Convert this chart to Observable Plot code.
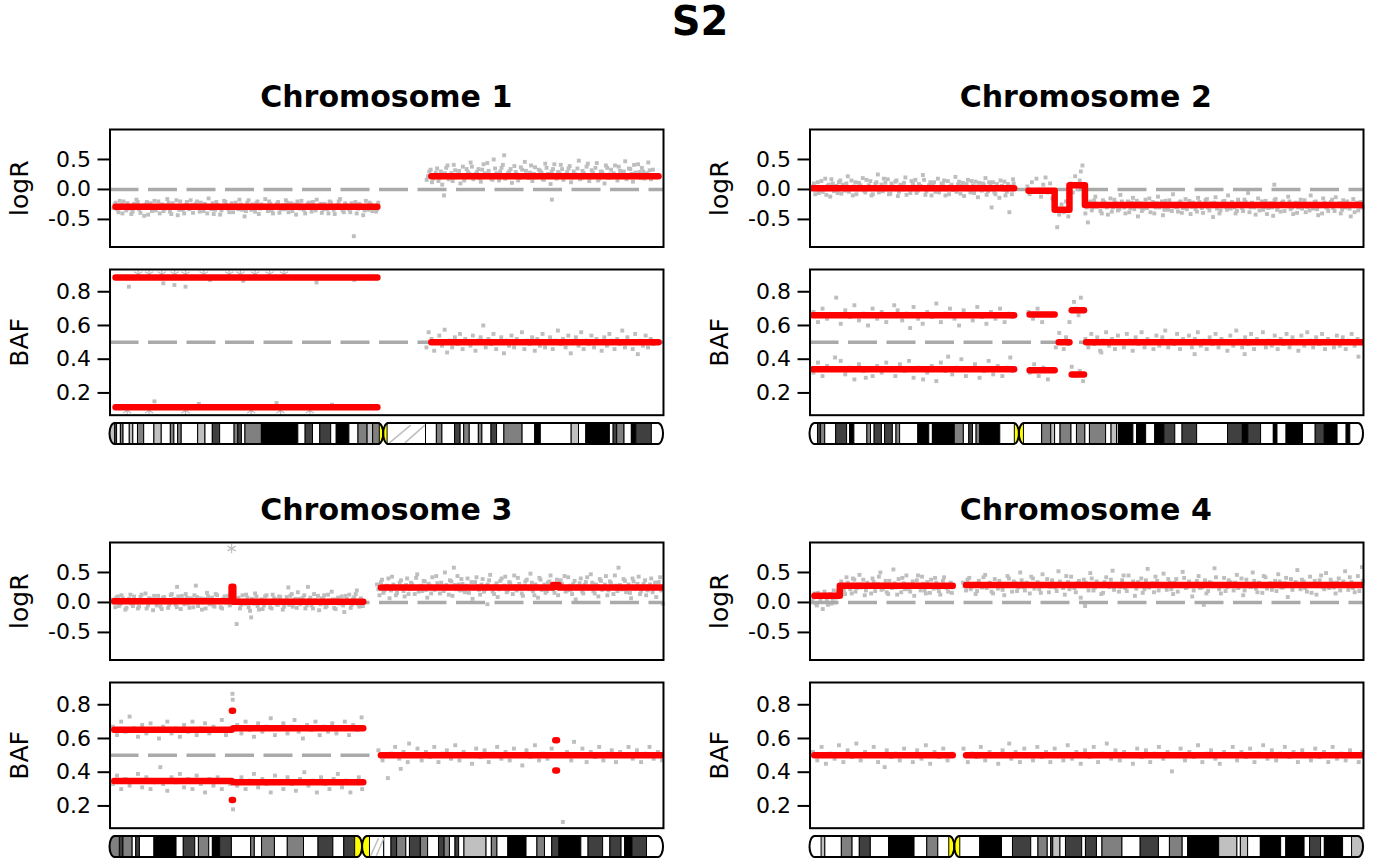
<!DOCTYPE html>
<html>
<head>
<meta charset="utf-8">
<script src="https://cdn.jsdelivr.net/npm/d3@7"></script>
<script src="https://cdn.jsdelivr.net/npm/@observablehq/plot@0.6"></script>
<style>
  body { margin: 0; background: #fff; }
  #chart { position: relative; width: 1400px; height: 866px; font-family: "DejaVu Sans", sans-serif; }
  #chart svg { position: absolute; overflow: visible; }
  .title { position: absolute; text-align: center; font-weight: bold; line-height: 1; white-space: nowrap; }
</style>
</head>
<body>
<div id="chart"></div>
<script>
// ---- chromosome lengths (Mb) ----
const chrLength = [249.25, 243.2, 198.0, 191.15];
const chrNames = ["Chromosome 1", "Chromosome 2", "Chromosome 3", "Chromosome 4"];

// ---- segment calls: [start, end, logR, group] (connected within a group) ----
const chr1LogRSeg = [[2.5, 120.4, -0.29, 1], [144.7, 247, 0.22, 2]];
const chr2LogRSeg = [[1.2, 89.7, 0.02, 1], [96, 107.5, -0.02, 2], [107.5, 114, -0.34, 2], [114, 120.8, 0.07, 2], [120.8, 242.6, -0.26, 2]];
const chr3LogRSeg = [[1.5, 43.5, 0.02, 1], [43.5, 44.1, 0.26, 1], [44.1, 90.6, 0.01, 1], [96.9, 158.5, 0.25, 2], [158.5, 160.5, 0.29, 2], [160.5, 197.5, 0.25, 2]];
const chr4LogRSeg = [[1.5, 10.3, 0.11, 1], [10.3, 49.3, 0.28, 1], [53.9, 190.5, 0.29, 2]];

// ---- BAF segments: [start, end, upper BAF] (mirrored at 1 - upper) ----
const chr1BafSeg = [[2.5, 120.4, 0.885], [144.7, 247, 0.5]];
const chr2BafSeg = [[1.2, 89.7, 0.66], [96.5, 107.5, 0.665], [109.3, 114, 0.5], [115, 120.4, 0.69], [121.3, 242.6, 0.5]];
const chr3BafSeg = [[1.5, 43.5, 0.652], [43.6, 44, 0.765], [44.1, 90.6, 0.66], [96.9, 197.5, 0.5], [159.3, 159.9, 0.59]];
const chr4BafSeg = [[1.5, 49.3, 0.5], [53.9, 190.5, 0.5]];

// ---- probe values: [position Mb, value] ----
const chr1LogR = [
[1.5,-0.31],[2.6,-0.22],[3.8,-0.38],[5.0,-0.26],[6.1,-0.2],[7.3,-0.35],[8.4,-0.29],[9.6,-0.41],[10.8,-0.24],[11.9,-0.17],[13.1,-0.33],[14.2,-0.27],[15.4,-0.44],[16.6,-0.21],[17.7,-0.3],[18.9,-0.36],[20.0,-0.19],[21.2,-0.28],[22.4,-0.4],[23.5,-0.25],[24.7,-0.32],[25.8,-0.16],[27.0,-0.37],[28.2,-0.23],[29.3,-0.29],[30.5,-0.43],[31.6,-0.2],[32.8,-0.34],[34.0,-0.26],[35.1,-0.31],[36.3,-0.18],[37.4,-0.39],[38.6,-0.24],[39.8,-0.3],[40.9,-0.22],[42.1,-0.36],[43.2,-0.27],[44.4,-0.15],[45.6,-0.33],[46.7,-0.41],[47.9,-0.21],[49.0,-0.29],[50.2,-0.35],[51.4,-0.19],[52.5,-0.26],[53.7,-0.38],[54.8,-0.23],[56.0,-0.31],[57.2,-0.27],[58.3,-0.17],[59.5,-0.34],[60.6,-0.45],[61.8,-0.22],[63.0,-0.3],[64.1,-0.25],[65.3,-0.37],[66.4,-0.2],[67.6,-0.32],[68.8,-0.28],[69.9,-0.16],[71.1,-0.36],[72.2,-0.24],[73.4,-0.4],[74.6,-0.29],[75.7,-0.21],[76.9,-0.33],[78.0,-0.26],[79.2,-0.18],[80.4,-0.38],[81.5,-0.23],[82.7,-0.3],[83.8,-0.42],[85.0,-0.25],[86.2,-0.19],[87.3,-0.34],[88.5,-0.28],[89.6,-0.22],[90.8,-0.37],[92.0,-0.31],[93.1,-0.17],[94.3,-0.27],[95.4,-0.39],[96.6,-0.24],[97.8,-0.33],[98.9,-0.2],[100.1,-0.29],[101.2,-0.41],[102.4,-0.26],[103.6,-0.16],[104.7,-0.35],[105.9,-0.23],[107.0,-0.3],[108.2,-0.38],[109.8,-0.78],[110.5,-0.21],[111.7,-0.32],[112.8,-0.27],[114.0,-0.43],[115.2,-0.19],[116.3,-0.34],[117.5,-0.25],[118.6,-0.3],[119.8,-0.37],[120.8,-0.22],
[142.6,0.16],[143.8,0.3],[145.0,0.12],[146.1,0.24],[147.3,0.35],[148.4,0.19],[149.6,0.08],[150.4,-0.1],[150.8,0.27],[152.0,0.4],[153.1,0.21],[154.3,0.14],[155.4,0.32],[156.6,0.25],[157.8,0.1],[158.9,0.38],[160.1,0.2],[161.2,0.29],[162.4,0.45],[163.6,0.17],[164.7,0.26],[165.9,0.34],[167.0,0.13],[168.2,0.42],[169.4,0.23],[170.5,0.31],[171.7,0.18],[172.8,0.5],[174.0,0.27],[175.2,0.15],[176.3,0.36],[177.5,0.57],[178.6,0.22],[179.8,0.3],[181.0,0.11],[182.1,0.39],[183.3,0.25],[184.4,0.19],[185.6,0.33],[186.8,0.46],[187.9,0.21],[189.1,0.28],[190.2,0.14],[191.4,0.37],[192.6,0.24],[193.7,0.31],[194.9,0.17],[196.0,0.43],[197.2,0.26],[198.4,0.09],[199.0,-0.17],[199.5,0.34],[200.7,0.2],[201.8,0.29],[203.0,0.41],[204.2,0.16],[205.3,0.25],[206.5,0.35],[207.6,0.12],[208.8,0.3],[210.0,0.22],[211.1,0.48],[212.3,0.19],[213.4,0.27],[214.6,0.38],[215.8,0.14],[216.9,0.32],[218.1,0.23],[219.2,0.44],[220.4,0.18],[221.6,0.29],[222.7,0.1],[223.9,0.36],[225.0,0.25],[226.2,0.2],[227.4,0.4],[228.5,0.15],[229.7,0.31],[230.8,0.27],[232.0,0.47],[233.2,0.21],[234.3,0.34],[235.5,0.13],[236.6,0.28],[237.8,0.42],[239.0,0.19],[240.1,0.3],[241.3,0.24],[242.4,0.45],[243.6,0.17],[244.5,0.33]
];
const chr1LogRMore = [
[2.0,-0.25],[3.2,-0.33],[4.4,-0.19],[5.6,-0.4],[6.7,-0.28],[7.9,-0.23],[9.0,-0.32],[10.2,-0.37],[11.4,-0.26],[12.5,-0.21],[13.7,-0.39],[14.8,-0.3],[16.0,-0.25],[17.2,-0.42],[18.3,-0.23],[19.5,-0.31],[20.6,-0.35],[21.8,-0.2],[23.0,-0.29],[24.1,-0.36],[25.3,-0.27],[26.4,-0.22],[27.6,-0.41],[28.8,-0.3],[29.9,-0.18],[31.1,-0.34],[32.2,-0.28],[33.4,-0.4],[34.6,-0.21],[35.7,-0.33],[36.9,-0.26],[38.0,-0.31],[39.2,-0.2],[40.4,-0.37],[41.5,-0.28],[42.7,-0.24],[43.8,-0.4],[45.0,-0.3],[46.2,-0.23],[47.3,-0.34],[48.5,-0.26],[49.6,-0.42],[50.8,-0.27],[52.0,-0.21],[53.1,-0.32],[54.3,-0.29],[55.4,-0.38],[56.6,-0.22],[57.8,-0.33],[58.9,-0.25],[60.1,-0.3],[61.2,-0.36],[62.4,-0.18],[63.6,-0.34],[64.7,-0.28],[65.9,-0.23],[67.0,-0.41],[68.2,-0.25],[69.4,-0.31],[70.5,-0.27],[71.7,-0.2],[72.8,-0.35],[74.0,-0.3],[75.2,-0.24],[76.3,-0.39],[77.5,-0.28],[78.6,-0.33],[79.8,-0.22],[81.0,-0.3],[82.1,-0.36],[83.3,-0.25],[84.4,-0.2],[85.6,-0.32],[86.8,-0.27],[87.9,-0.4],[89.1,-0.24],[90.2,-0.3],[91.4,-0.21],[92.6,-0.35],[93.7,-0.29],[94.9,-0.24],[96.0,-0.33],[97.2,-0.28],[98.4,-0.4],[99.5,-0.22],[100.7,-0.34],[101.8,-0.27],[103.0,-0.2],[104.2,-0.31],[105.3,-0.38],[106.5,-0.26],[107.6,-0.33],[108.8,-0.23],[110.0,-0.3],[111.1,-0.4],[112.3,-0.24],[113.4,-0.29],[114.6,-0.35],[115.8,-0.27],[116.9,-0.22],[118.1,-0.36],[119.2,-0.28],[120.3,-0.33],
[143.2,0.22],[144.4,0.33],[145.6,0.18],[146.7,0.28],[147.9,0.14],[149.0,0.3],[150.2,0.24],[151.4,0.36],[152.5,0.17],[153.7,0.27],[154.8,0.41],[156.0,0.2],[157.2,0.31],[158.3,0.23],[159.5,0.15],[160.6,0.34],[161.8,0.26],[163.0,0.38],[164.1,0.21],[165.3,0.29],[166.4,0.19],[167.6,0.33],[168.8,0.27],[169.9,0.44],[171.1,0.24],[172.2,0.16],[173.4,0.35],[174.6,0.22],[175.7,0.3],[176.9,0.41],[178.0,0.18],[179.2,0.27],[180.4,0.34],[181.5,0.21],[182.7,0.29],[183.8,0.15],[185.0,0.37],[186.2,0.24],[187.3,0.31],[188.5,0.19],[189.6,0.4],[190.8,0.26],[192.0,0.2],[193.1,0.33],[194.3,0.28],[195.4,0.16],[196.6,0.36],[197.8,0.23],[198.9,0.3],[200.1,0.42],[201.2,0.18],[202.4,0.27],[203.6,0.34],[204.7,0.22],[205.9,0.29],[207.0,0.39],[208.2,0.2],[209.4,0.26],[210.5,0.35],[211.7,0.17],[212.8,0.31],[214.0,0.24],[215.2,0.43],[216.3,0.21],[217.5,0.28],[218.6,0.36],[219.8,0.15],[221.0,0.3],[222.1,0.25],[223.3,0.4],[224.4,0.19],[225.6,0.33],[226.8,0.27],[227.9,0.21],[229.1,0.38],[230.2,0.24],[231.4,0.3],[232.6,0.17],[233.7,0.35],[234.9,0.26],[236.0,0.41],[237.2,0.22],[238.4,0.29],[239.5,0.36],[240.7,0.18],[241.8,0.27],[243.0,0.32],[244.2,0.23]
];
const chr1Baf = [
[8.5,0.83],[24,0.85],[29,0.84],[34,0.83],[45,0.87],[60,0.865],[93,0.855],[110,0.87],[20,0.15],[40,0.135],[75,0.14],[100,0.13],
[142.5,0.47],[143.5,0.56],[144.8,0.52],[146,0.45],[147.2,0.5],[148.3,0.54],[149.5,0.48],[150.7,0.575],[151.8,0.44],[153,0.51],[154.1,0.47],[155.3,0.53],[156.5,0.49],[157.6,0.55],[158.8,0.46],[160,0.52],[161.1,0.5],[162.3,0.48],[163.4,0.54],[164.6,0.45],[165.8,0.51],[166.9,0.53],[168.1,0.6],[169.2,0.47],[170.4,0.52],[171.6,0.49],[172.7,0.55],[173.9,0.46],[175,0.5],[176.2,0.53],[177.4,0.435],[178.5,0.51],[179.7,0.48],[180.8,0.54],[182,0.47],[183.2,0.52],[184.3,0.5],[185.5,0.56],[186.6,0.46],[187.8,0.51],[189,0.49],[190.1,0.53],[191.3,0.45],[192.4,0.52],[193.6,0.48],[194.8,0.55],[195.9,0.47],[197.1,0.5],[198.2,0.53],[199.4,0.46],[200.6,0.51],[201.7,0.57],[202.9,0.49],[204,0.52],[205.2,0.47],[206.4,0.54],[207.5,0.435],[208.7,0.5],[209.8,0.53],[211,0.48],[212.2,0.56],[213.3,0.46],[214.5,0.51],[215.6,0.49],[216.8,0.54],[218,0.47],[219.1,0.52],[220.3,0.5],[221.4,0.45],[222.6,0.53],[223.8,0.48],[224.9,0.55],[226.1,0.51],[227.2,0.46],[228.4,0.52],[229.6,0.49],[230.7,0.57],[231.9,0.47],[233,0.53],[234.2,0.5],[235.4,0.46],[236.5,0.55],[237.7,0.43],[238.8,0.51],[240,0.48],[241.2,0.54],[242.3,0.47],[243.5,0.52],[244.6,0.49]
];
const chr1BafStars = [[12.7,0.905],[17.6,0.905],[23.3,0.905],[29.1,0.905],[34,0.905],[42.2,0.905],[53.7,0.905],[58.7,0.905],[65.3,0.905],[71.8,0.905],[78.4,0.905],[7.7,0.095],[17.6,0.095],[34,0.095],[63.6,0.095],[76.8,0.095],[90,0.095]];

const chr2LogR = [
[1.2,0.05],[2.3,-0.08],[3.4,0.12],[4.5,0.0],[5.6,-0.04],[6.7,0.18],[7.8,0.06],[8.9,-0.12],[10,0.1],[11.1,0.02],[12.2,-0.06],[13.3,0.15],[14.4,0.08],[15.5,-0.02],[16.6,0.22],[17.7,0.04],[18.8,-0.1],[19.9,0.12],[21,0.0],[22.1,0.07],[23.2,0.19],[24.3,-0.05],[25.4,0.03],[26.5,0.14],[27.6,-0.08],[28.7,0.09],[29.8,0.25],[30.9,0.01],[32,-0.03],[33.1,0.11],[34.2,0.17],[35.3,-0.07],[36.4,0.05],[37.5,0.13],[38.6,-0.11],[39.7,0.08],[40.8,0.0],[41.9,0.2],[43,0.04],[44.1,-0.06],[45.2,0.1],[46.3,0.16],[47.4,-0.02],[48.5,0.06],[49.6,0.24],[50.7,-0.09],[51.8,0.03],[52.9,0.12],[54,0.07],[55.1,-0.04],[56.2,0.18],[57.3,0.01],[58.4,0.09],[59.5,-0.1],[60.6,0.14],[61.7,0.05],[62.8,-0.01],[63.9,0.21],[65,0.08],[66.1,-0.07],[67.2,0.11],[68.3,0.03],[69.4,0.16],[70.5,-0.05],[71.6,0.07],[72.7,0.13],[73.8,-0.13],[74.9,0.02],[76,0.1],[77.1,0.19],[78.2,-0.03],[79.3,0.06],[79.8,-0.3],[80.4,0.12],[81.5,-0.08],[82.6,0.04],[83.7,0.15],[84.8,0.0],[85.9,-0.1],[87,0.09],[87.6,-0.38],[88.1,0.03],[89.2,0.17],
[95.5,0.05],[96.5,-0.08],[97.5,0.12],[98.5,-0.02],[99.5,0.18],[100.5,0.0],[101.5,-0.12],[102.5,0.08],[103.5,0.2],[104.5,-0.05],[105.5,0.1],[106.5,-0.15],[107.5,-0.3],[108.6,-0.63],[109.5,-0.42],[110.5,-0.25],[111.5,-0.38],[112.5,-0.2],[113.5,-0.45],[114.5,0.1],[115.5,-0.05],[116.5,0.22],[117.5,0.0],[118.5,0.15],[119,0.3],[119.7,0.4],[120.2,-0.1],
[121,-0.4],[122.1,-0.55],[123.2,-0.2],[124.3,-0.3],[125.4,-0.12],[126.5,-0.27],[127.6,-0.36],[128.7,-0.18],[129.8,-0.24],[130.9,-0.42],[132,-0.15],[133.1,-0.3],[134.2,-0.22],[135.3,-0.35],[136.4,-0.09],[137.5,-0.26],[138.6,-0.4],[139.7,-0.2],[140.8,-0.31],[141.9,-0.14],[143,-0.28],[144.1,-0.45],[145.2,-0.23],[146.3,-0.33],[147.4,-0.17],[148.5,-0.26],[149.6,-0.38],[150.7,-0.21],[151.8,-0.3],[152.9,-0.12],[154,-0.27],[155.1,-0.43],[156.2,-0.19],[157.3,-0.34],[158.4,-0.24],[159.5,-0.08],[160.6,-0.29],[161.7,-0.37],[162.8,-0.2],[163.9,-0.31],[165,-0.16],[166.1,-0.25],[167.2,-0.41],[168.3,-0.22],[169.4,-0.33],[170.5,-0.14],[171.6,-0.28],[172.7,-0.39],[173.8,-0.18],[174.9,-0.3],[176,-0.23],[177.1,-0.46],[178.2,-0.13],[179.3,-0.27],[180.4,-0.35],[181.5,-0.2],[182.6,-0.29],[183.7,-0.1],[184.8,-0.32],[185.9,-0.24],[187,-0.4],[188.1,-0.17],[189.2,-0.28],[190.3,-0.36],[191.4,-0.21],[192.5,-0.06],[193.6,-0.3],[194.7,-0.25],[195.8,-0.42],[196.9,-0.15],[198,-0.27],[199.1,-0.34],[200.2,-0.19],[201.3,-0.31],[202.4,-0.23],[203.5,-0.44],[204,0.08],[204.6,-0.16],[205.7,-0.29],[206.8,-0.37],[207.9,-0.2],[209,-0.26],[210.1,-0.12],[211.2,-0.33],[212.3,-0.41],[213.4,-0.22],[214.5,-0.3],[215.6,-0.17],[216.7,-0.27],[217.8,-0.38],[218.9,-0.24],[220,-0.1],[221.1,-0.32],[222.2,-0.2],[223.3,-0.43],[224.4,-0.26],[225.5,-0.15],[226.6,-0.29],[227.7,-0.36],[228.8,-0.21],[229.9,-0.31],[231,-0.13],[232.1,-0.27],[233.2,-0.4],[234.3,-0.18],[235.4,-0.3],[236.5,-0.24],[237.6,-0.45],[238.7,-0.16],[239.8,-0.28],[240.9,-0.35],[242,-0.21],[242.8,-0.3]
];
const chr2LogRMore = [
[1.7,0.1],[2.8,0.0],[3.9,-0.06],[5.0,0.14],[6.1,0.04],[7.2,-0.09],[8.3,0.08],[9.4,0.17],[10.5,-0.03],[11.6,0.06],[12.7,0.12],[13.8,-0.07],[14.9,0.03],[16.0,0.1],[17.1,-0.04],[18.2,0.15],[19.3,0.05],[20.4,-0.08],[21.5,0.11],[22.6,0.02],[23.7,-0.02],[24.8,0.16],[25.9,0.07],[27.0,-0.1],[28.1,0.04],[29.2,0.12],[30.3,-0.05],[31.4,0.08],[32.5,0.18],[33.6,0.0],[34.7,-0.08],[35.8,0.1],[36.9,0.03],[38.0,0.15],[39.1,-0.04],[40.2,0.06],[41.3,0.11],[42.4,-0.09],[43.5,0.02],[44.6,0.14],[45.7,0.05],[46.8,-0.06],[47.9,0.09],[49.0,0.01],[50.1,0.16],[51.2,-0.03],[52.3,0.07],[53.4,-0.1],[54.5,0.12],[55.6,0.04],[56.7,-0.05],[57.8,0.1],[58.9,0.15],[60.0,0.0],[61.1,-0.08],[62.2,0.08],[63.3,0.03],[64.4,-0.04],[65.5,0.13],[66.6,0.06],[67.7,-0.11],[68.8,0.09],[69.9,0.0],[71.0,0.14],[72.1,-0.06],[73.2,0.05],[74.3,0.11],[75.4,-0.02],[76.5,0.07],[77.6,-0.09],[78.7,0.12],[79.9,0.02],[81.0,-0.05],[82.1,0.09],[83.2,-0.14],[84.3,0.06],[85.4,0.13],[86.5,-0.04],[87.8,0.05],[88.7,-0.08],[89.5,0.1],
[121.6,-0.3],[122.7,-0.22],[123.8,-0.35],[124.9,-0.18],[126.0,-0.29],[127.1,-0.25],[128.2,-0.4],[129.3,-0.21],[130.4,-0.3],[131.5,-0.26],[132.6,-0.37],[133.7,-0.17],[134.8,-0.28],[135.9,-0.33],[137.0,-0.2],[138.1,-0.3],[139.2,-0.24],[140.3,-0.38],[141.4,-0.22],[142.5,-0.33],[143.6,-0.19],[144.7,-0.29],[145.8,-0.36],[146.9,-0.25],[148.0,-0.31],[149.1,-0.15],[150.2,-0.27],[151.3,-0.4],[152.4,-0.23],[153.5,-0.3],[154.6,-0.2],[155.7,-0.34],[156.8,-0.28],[157.9,-0.18],[159.0,-0.36],[160.1,-0.24],[161.2,-0.3],[162.3,-0.22],[163.4,-0.39],[164.5,-0.26],[165.6,-0.33],[166.7,-0.19],[167.8,-0.29],[168.9,-0.24],[170.0,-0.37],[171.1,-0.21],[172.2,-0.31],[173.3,-0.27],[174.4,-0.16],[175.5,-0.35],[176.6,-0.28],[177.7,-0.22],[178.8,-0.32],[179.9,-0.4],[181.0,-0.25],[182.1,-0.19],[183.2,-0.34],[184.3,-0.27],[185.4,-0.21],[186.5,-0.3],[187.6,-0.36],[188.7,-0.23],[189.8,-0.31],[190.9,-0.17],[192.0,-0.28],[193.1,-0.38],[194.2,-0.22],[195.3,-0.3],[196.4,-0.25],[197.5,-0.35],[198.6,-0.2],[199.7,-0.29],[200.8,-0.41],[201.9,-0.24],[203.0,-0.3],[204.1,-0.18],[205.2,-0.34],[206.3,-0.27],[207.4,-0.22],[208.5,-0.36],[209.6,-0.28],[210.7,-0.2],[211.8,-0.3],[212.9,-0.25],[214.0,-0.39],[215.1,-0.23],[216.2,-0.32],[217.3,-0.18],[218.4,-0.29],[219.5,-0.35],[220.6,-0.26],[221.7,-0.21],[222.8,-0.33],[223.9,-0.28],[225.0,-0.4],[226.1,-0.22],[227.2,-0.31],[228.3,-0.25],[229.4,-0.17],[230.5,-0.36],[231.6,-0.27],[232.7,-0.23],[233.8,-0.34],[234.9,-0.29],[236.0,-0.2],[237.1,-0.32],[238.2,-0.26],[239.3,-0.38],[240.4,-0.22],[241.5,-0.3],[242.5,-0.25]
];
const chr2Baf = [
[1.5,0.68],[3.5,0.62],[5.5,0.7],[7.5,0.64],[9.5,0.66],[11.5,0.765],[13.5,0.61],[15.5,0.69],[17.5,0.65],[19.5,0.72],[21.5,0.63],[23.5,0.67],[25.5,0.6],[27.5,0.7],[29.5,0.64],[31.5,0.68],[33.5,0.62],[35.5,0.66],[37,0.72],[38.5,0.69],[40.5,0.63],[42.5,0.67],[44,0.585],[45.5,0.71],[47.5,0.64],[49.5,0.61],[51.5,0.68],[53.5,0.65],[55.5,0.73],[57.5,0.62],[59.5,0.67],[61.5,0.7],[63.5,0.64],[65.5,0.6],[67.5,0.69],[69.5,0.66],[71.5,0.63],[73.5,0.71],[75.5,0.65],[77.5,0.61],[79.5,0.68],[81.5,0.64],[83.5,0.7],[85.5,0.62],[87.5,0.67],[89,0.65],
[1.5,0.32],[3.5,0.38],[5.5,0.3],[7.5,0.36],[9.5,0.34],[11,0.41],[13.5,0.39],[15.5,0.31],[17.5,0.35],[19.5,0.28],[21.5,0.37],[23.5,0.33],[24.5,0.29],[27.5,0.3],[29.5,0.36],[31.5,0.32],[33.5,0.38],[35.5,0.34],[37.5,0.3],[39.5,0.37],[41.5,0.33],[43.5,0.39],[45.5,0.29],[47.5,0.35],[49.7,0.28],[51.5,0.32],[53.5,0.36],[55.5,0.27],[57.5,0.38],[59.5,0.33],[60.7,0.415],[62.5,0.31],[64.5,0.35],[66.5,0.4],[68.5,0.3],[70.5,0.34],[72.5,0.37],[74.5,0.29],[76.5,0.33],[78.5,0.39],[80.5,0.31],[82.5,0.36],[84.5,0.3],[86.5,0.35],[88,0.41],[89,0.33],
[96,0.68],[98,0.64],[100,0.7],[102,0.62],[104,0.67],[106,0.66],[96.5,0.32],[98.5,0.37],[100.5,0.3],[102.5,0.35],[104.5,0.28],[106.5,0.34],[108,0.47],[109.5,0.556],[110.5,0.5],[111.5,0.46],[112.5,0.53],[113.5,0.49],[114,0.62],[115,0.355],[116,0.74],[117,0.7],[118,0.66],[119,0.765],[116.5,0.3],[118.5,0.33],[120,0.27],
[121,0.52],[122.3,0.47],[123.6,0.55],[124.9,0.49],[126.2,0.53],[127.5,0.45],[128,0.44],[128.8,0.51],[130.1,0.56],[131.4,0.48],[132.7,0.52],[134,0.46],[135.3,0.54],[136.6,0.5],[137.9,0.47],[139.2,0.55],[140.5,0.51],[141.8,0.45],[143.1,0.53],[144.4,0.49],[145.7,0.56],[147,0.47],[148.3,0.52],[149.6,0.5],[150.9,0.46],[152.2,0.54],[153.5,0.48],[154.8,0.53],[156.1,0.57],[157.4,0.47],[158.7,0.51],[160,0.49],[161.3,0.55],[162.6,0.46],[163.9,0.52],[165.2,0.5],[166.5,0.54],[167.8,0.47],[169,0.43],[169.1,0.52],[170.4,0.56],[171.7,0.48],[173,0.51],[174.3,0.46],[175.6,0.53],[176.9,0.49],[178.2,0.55],[179.5,0.47],[180.8,0.52],[182.1,0.5],[183.4,0.45],[184.7,0.54],[186,0.48],[187.3,0.57],[188.6,0.51],[189.9,0.47],[191,0.43],[191.2,0.53],[192.5,0.49],[193.8,0.55],[195.1,0.46],[196.4,0.52],[197.7,0.5],[199,0.56],[200.3,0.47],[201.6,0.51],[202.9,0.48],[204.2,0.54],[205.5,0.46],[206.8,0.52],[208.1,0.49],[209.4,0.55],[210.7,0.47],[212,0.53],[213.3,0.5],[214.6,0.45],[215.9,0.54],[217.2,0.48],[218.5,0.56],[219.8,0.51],[221.1,0.47],[222.4,0.53],[223.7,0.49],[225,0.55],[226.3,0.46],[227.6,0.52],[228.9,0.5],[230.2,0.47],[231.5,0.54],[232.8,0.48],[234.1,0.53],[235.4,0.46],[236.7,0.51],[238,0.55],[239.3,0.48],[240.6,0.52],[241,0.415],[242.2,0.5]
];

const chr3LogR = [
[1,0.05],[1.9,-0.08],[2.8,0.1],[3.7,-0.03],[4.6,0.07],[5.5,-0.12],[6.4,0.02],[7.3,0.13],[8.2,-0.06],[9.1,0.04],[10,-0.1],[10.9,0.09],[11.8,0.0],[12.7,0.15],[13.6,-0.05],[14.5,0.06],[15.4,-0.13],[16.3,0.03],[17.2,0.11],[18.1,-0.07],[19,0.08],[19.9,0.01],[20.8,-0.09],[21.7,0.12],[22.6,0.04],[23.5,-0.04],[24,0.26],[24.4,0.1],[25.3,-0.11],[26.2,0.05],[27.1,0.14],[28,-0.02],[28.9,0.07],[29.8,-0.08],[30.7,0.28],[31.1,0.09],[32,0.02],[32.9,-0.12],[33.8,0.06],[34.7,0.16],[35.6,-0.03],[36.5,0.08],[37.4,-0.07],[38.3,0.12],[39.2,0.0],[40.1,-0.1],[41,0.1],[41.9,0.04],[42.8,-0.05],
[45.3,-0.36],[45.6,0.06],[46.5,-0.1],[47.4,0.12],[48.3,-0.02],[49.2,0.08],[50.1,-0.14],[50.5,-0.25],[51,0.04],[51.9,0.15],[52.8,-0.06],[53.7,0.03],[54.6,-0.11],[55.5,0.1],[56.4,0.0],[57.3,-0.08],[58.2,0.13],[59.1,0.05],[60,-0.04],[60.9,0.09],[61.8,-0.12],[62.7,0.02],[63.8,0.25],[64.5,0.11],[65.4,-0.07],[66.3,0.06],[67.2,0.17],[68.1,-0.03],[69,0.08],[69.9,-0.1],[70.8,0.26],[71.2,0.04],[72.1,-0.05],[73,0.14],[73.9,0.01],[74.8,-0.13],[75.7,0.07],[76.6,0.12],[77.5,-0.06],[78.4,0.03],[79.3,0.18],[80.2,-0.09],[81.1,0.05],[82,-0.02],[82.9,0.1],[83.8,-0.16],[84.7,0.06],[85.6,0.13],[86.5,-0.04],[87.4,0.09],[88.3,0.2],[89.2,-0.07],[90.1,0.03],
[95.5,0.3],[96.4,0.12],[97.3,0.38],[98.2,0.2],[99.1,0.28],[100,0.07],[100.9,0.43],[101.8,0.24],[102.7,0.16],[103.6,0.33],[104.5,0.26],[105.4,0.1],[106.3,0.4],[107.2,0.22],[108.1,0.3],[109,0.14],[109.9,0.47],[110.8,0.25],[111.7,0.19],[112.6,0.35],[113.5,0.08],[114.4,0.28],[115.3,0.42],[116.2,0.21],[117.1,0.32],[118,0.15],[118.9,0.26],[119.8,0.5],[120.7,0.23],[121.6,0.37],[122.5,0.11],[123,0.58],[123.4,0.29],[124.3,0.44],[125.2,0.2],[126.1,0.31],[127,0.17],[127.9,0.4],[128.8,0.24],[129.7,0.06],[130.6,0.34],[131.5,0.27],[132.4,0.13],[133.3,0.39],[134.2,0.22],[135,-0.03],[135.1,0.3],[136,0.46],[136.9,0.18],[137.8,0.28],[138.7,0.09],[139.6,0.36],[140.5,0.25],[141.4,0.43],[142.3,0.2],[143.2,0.32],[144.1,0.14],[145,0.27],[145.9,0.41],[146.8,0.23],[147.7,0.11],[148.6,0.35],[149.5,0.26],[150.4,0.48],[151.3,0.19],[152.2,0.3],[153.1,0.08],[154,0.38],[154.9,0.24],[155.8,0.16],[156.7,0.33],[157.6,0.45],[158.5,0.22],[159.4,0.29],[160.3,0.12],[161.2,0.37],[162.1,0.25],[163,0.18],[163.9,0.42],[164.8,0.21],[165.7,0.31],[166.6,0.05],[167.5,0.27],[168.4,0.4],[169.3,0.15],[170.2,0.34],[171.1,0.23],[172,0.47],[172.9,0.19],[173.8,0.3],[174.7,0.1],[175.6,0.36],[176.5,0.26],[177.4,0.44],[178.3,0.2],[179.2,0.32],[180.1,0.14],[181,0.28],[181.9,0.58],[182.8,0.22],[183.7,0.39],[184.6,0.17],[185.5,0.3],[186.4,0.07],[187.3,0.35],[188.2,0.25],[189.1,0.43],[190,0.19],[190.9,0.31],[191.8,0.12],[192.7,0.27],[193.6,0.4],[194.5,0.23],[195.4,0.09],[196.3,0.34],[197.2,0.2],[197.8,-0.02]
];
const chr3LogRMore = [
[1.4,0.0],[2.3,0.08],[3.2,-0.06],[4.1,0.12],[5.0,0.03],[5.9,-0.09],[6.8,0.06],[7.7,-0.02],[8.6,0.1],[9.5,0.0],[10.4,-0.07],[11.3,0.13],[12.2,0.04],[13.1,-0.1],[14.0,0.07],[14.9,0.01],[15.8,0.11],[16.7,-0.05],[17.6,0.05],[18.5,-0.11],[19.4,0.09],[20.3,0.02],[21.2,-0.04],[22.1,0.14],[23.0,0.06],[23.9,-0.08],[24.8,0.03],[25.7,0.11],[26.6,-0.03],[27.5,0.08],[28.4,-0.09],[29.3,0.05],[30.2,0.12],[31.5,-0.06],[32.4,0.07],[33.3,0.0],[34.2,-0.1],[35.1,0.1],[36.0,0.03],[36.9,-0.05],[37.8,0.14],[38.7,0.04],[39.6,-0.08],[40.5,0.06],[41.4,0.0],[42.3,0.11],[43.0,-0.03],
[46.0,0.08],[46.9,-0.04],[47.8,0.03],[48.7,0.13],[49.6,-0.08],[50.8,0.06],[51.5,-0.02],[52.4,0.1],[53.3,-0.12],[54.2,0.05],[55.1,-0.05],[56.0,0.12],[56.9,0.02],[57.8,-0.1],[58.7,0.07],[59.6,-0.03],[60.5,0.1],[61.4,0.01],[62.3,-0.07],[63.2,0.09],[64.1,-0.04],[65.0,0.14],[65.9,0.03],[66.8,-0.09],[67.7,0.06],[68.6,0.0],[69.5,0.12],[70.4,-0.05],[71.7,0.08],[72.6,-0.1],[73.5,0.04],[74.4,0.11],[75.3,-0.03],[76.2,0.06],[77.1,-0.08],[78.0,0.13],[78.9,0.0],[79.8,0.05],[80.7,-0.11],[81.6,0.08],[82.5,0.02],[83.4,-0.05],[84.3,0.11],[85.2,0.0],[86.1,-0.09],[87.0,0.06],[87.9,0.14],[88.8,-0.03],[89.7,0.07],[90.4,-0.06],
[96.0,0.22],[96.9,0.34],[97.8,0.16],[98.7,0.27],[99.6,0.4],[100.5,0.2],[101.4,0.3],[102.3,0.12],[103.2,0.25],[104.1,0.37],[105.0,0.19],[105.9,0.29],[106.8,0.14],[107.7,0.33],[108.6,0.23],[109.5,0.41],[110.4,0.18],[111.3,0.28],[112.2,0.36],[113.1,0.21],[114.0,0.31],[114.9,0.15],[115.8,0.26],[116.7,0.44],[117.6,0.24],[118.5,0.33],[119.4,0.19],[120.3,0.29],[121.2,0.13],[122.1,0.35],[123.9,0.22],[124.8,0.3],[125.7,0.39],[126.6,0.2],[127.5,0.28],[128.4,0.16],[129.3,0.34],[130.2,0.25],[131.1,0.42],[132.0,0.21],[132.9,0.3],[133.8,0.18],[134.7,0.27],[135.6,0.37],[136.5,0.24],[137.4,0.14],[138.3,0.32],[139.2,0.22],[140.1,0.4],[141.0,0.28],[141.9,0.17],[142.8,0.34],[143.7,0.25],[144.6,0.45],[145.5,0.2],[146.4,0.31],[147.3,0.15],[148.2,0.28],[149.1,0.38],[150.0,0.22],[150.9,0.33],[151.8,0.12],[152.7,0.26],[153.6,0.41],[154.5,0.21],[155.4,0.3],[156.3,0.19],[157.2,0.35],[158.1,0.27],[159.0,0.16],[159.9,0.38],[160.8,0.24],[161.7,0.31],[162.6,0.44],[163.5,0.2],[164.4,0.28],[165.3,0.14],[166.2,0.36],[167.1,0.23],[168.0,0.32],[168.9,0.18],[169.8,0.29],[170.7,0.42],[171.6,0.25],[172.5,0.33],[173.4,0.15],[174.3,0.27],[175.2,0.39],[176.1,0.21],[177.0,0.3],[177.9,0.12],[178.8,0.35],[179.7,0.24],[180.6,0.45],[181.5,0.19],[182.4,0.29],[183.3,0.22],[184.2,0.36],[185.1,0.26],[186.0,0.16],[186.9,0.4],[187.8,0.23],[188.7,0.31],[189.6,0.14],[190.5,0.28],[191.4,0.37],[192.3,0.2],[193.2,0.3],[194.1,0.17],[195.0,0.33],[195.9,0.25],[196.8,0.42],[197.5,0.21]
];
const chr3LogRStars = [[43.5, 0.9]];
const chr3Baf = [
[1,0.67],[2.5,0.62],[4,0.7],[5.5,0.64],[7,0.73],[8.5,0.66],[10,0.61],[11.5,0.68],[13,0.63],[14.5,0.69],[16,0.65],[17.5,0.6],[19,0.67],[20.5,0.7],[22,0.63],[23.5,0.66],[25,0.61],[26.5,0.68],[28,0.64],[29.5,0.7],[31,0.62],[32.5,0.66],[34,0.69],[35.5,0.63],[37,0.67],[38.5,0.65],[40,0.71],[41.5,0.62],[43,0.66],
[1,0.33],[2.5,0.38],[4,0.3],[5.5,0.36],[7,0.32],[8.5,0.35],[10,0.39],[11.5,0.31],[13,0.37],[14.5,0.3],[16,0.34],[18,0.43],[19,0.33],[20.5,0.29],[22,0.37],[23.5,0.34],[25,0.39],[26.5,0.31],[28,0.36],[29.5,0.3],[31,0.38],[32.5,0.33],[34,0.28],[35.5,0.36],[37,0.32],[38.5,0.37],[40,0.3],[41.5,0.35],[43,0.33],
[43.8,0.865],[43.9,0.83],[44.0,0.18],
[45.5,0.68],[47,0.63],[48.5,0.7],[50,0.65],[51.5,0.61],[53,0.69],[54.5,0.64],[56,0.67],[57.5,0.72],[59,0.62],[60.5,0.66],[62,0.69],[63.5,0.63],[65,0.67],[66,0.71],[67.5,0.64],[69,0.6],[70.5,0.68],[72,0.65],[73.5,0.7],[75,0.62],[76.5,0.67],[78,0.64],[79.5,0.69],[81,0.63],[82.5,0.66],[84,0.7],[85.5,0.62],[87,0.68],[88.5,0.65],[90,0.725],
[45.5,0.32],[47,0.37],[48.5,0.3],[50,0.35],[51.5,0.39],[53,0.31],[54.5,0.36],[56,0.33],[57.5,0.28],[59,0.38],[60.5,0.34],[62,0.3],[63.5,0.37],[65,0.33],[66.5,0.29],[68,0.36],[69.5,0.4],[71,0.32],[72.5,0.35],[74,0.28],[75.5,0.37],[77,0.33],[78.5,0.3],[80,0.36],[81.5,0.39],[83,0.31],[84.5,0.35],[86,0.28],[87.5,0.34],[89,0.37],[90.2,0.3],
[96,0.53],[97.5,0.47],[99.4,0.365],[100.5,0.51],[102,0.55],[103.5,0.48],[104,0.42],[105,0.52],[106.5,0.46],[107,0.57],[108.5,0.5],[110,0.54],[111.5,0.47],[113,0.52],[114.5,0.49],[116,0.55],[117.5,0.46],[119,0.51],[120.5,0.53],[122,0.48],[123.5,0.56],[125,0.47],[126.5,0.52],[128,0.5],[129.5,0.45],[131,0.54],[132.5,0.49],[134,0.53],[135.5,0.46],[137,0.51],[138.5,0.55],[140,0.48],[141.5,0.52],[143,0.47],[144.5,0.54],[146,0.5],[147.5,0.44],[149,0.53],[150.5,0.49],[152,0.56],[153.5,0.47],[155,0.51],[156.5,0.48],[158,0.54],[160,0.5],[162,0.105],[163.5,0.52],[165,0.47],[166,0.58],[167.5,0.5],[169,0.54],[170.5,0.46],[172,0.52],[173.5,0.49],[175,0.55],[176.5,0.47],[178,0.51],[179.5,0.53],[181,0.46],[182.5,0.52],[184,0.5],[185.5,0.55],[187,0.48],[188.5,0.53],[190,0.46],[191.5,0.51],[193,0.55],[194.5,0.48],[196,0.52],[197.5,0.47]
];

const chr4LogR = [
[0.8,0.02],[1.6,0.15],[2.4,-0.05],[3.2,0.1],[4.4,-0.11],[5,0.18],[5.8,0.05],[6.6,0.12],[7.4,-0.02],[8.2,0.2],[9,0.08],[9.8,0.14],
[10.8,0.35],[11.7,0.2],[12.6,0.42],[13.5,0.28],[14.4,0.15],[15.3,0.38],[16.2,0.24],[17.1,0.46],[18,0.3],[18.9,0.12],[19.8,0.33],[20.7,0.26],[21.6,0.4],[22.5,0.19],[23.4,0.31],[24.3,0.5],[25.2,0.23],[26.1,0.36],[27,0.14],[27.9,0.29],[28.8,0.55],[29.7,0.25],[30.6,0.39],[31.5,0.17],[32.4,0.32],[33.3,0.45],[34.2,0.22],[35.1,0.3],[36,0.11],[36.9,0.37],[37.8,0.27],[38.7,0.43],[39.6,0.2],[40.5,0.34],[41.4,0.16],[42.3,0.29],[43.2,0.41],[44.1,0.24],[45,0.13],[45.9,0.36],[46.8,0.28],[47.7,0.18],[48.6,0.33],[49.3,0.25],
[52.8,0.33],[53.9,0.2],[55,0.41],[56.1,0.27],[57.2,0.14],[58.3,0.36],[59.4,0.25],[60.5,0.46],[61.6,0.31],[62.7,0.18],[63.8,0.39],[64.9,0.23],[66,0.3],[67.1,0.12],[68.2,0.44],[69.3,0.28],[70.4,0.35],[71.5,0.19],[72.6,0.5],[73.7,0.26],[74.8,0.33],[75.9,0.15],[77,0.4],[78.1,0.29],[79.2,0.22],[80.3,0.47],[81.4,0.31],[82.5,0.17],[83.6,0.37],[84.7,0.25],[85.8,0.52],[86.9,0.3],[88,0.13],[89.1,0.34],[90.2,0.43],[91.3,0.24],[92.4,0.32],[93.5,0.08],[94.6,0.38],[95,-0.06],[95.7,0.27],[96.8,0.49],[97.9,0.2],[99,0.35],[100.1,0.29],[101.2,0.16],[102.3,0.42],[103.4,0.26],[104.5,0.53],[105.6,0.31],[106.7,0.18],[107.8,0.37],[108.9,0.24],[110,0.45],[111.1,0.29],[112.2,0.11],[113.3,0.34],[114.4,0.4],[115.5,0.22],[116.6,0.56],[117.7,0.3],[118.8,0.17],[119.9,0.36],[121,0.27],[122.1,0.48],[123.2,0.21],[124.3,0.33],[125.4,0.14],[126.5,0.39],[127.6,0.28],[128.7,0.51],[129.8,0.24],[130.9,0.35],[132,0.1],[133.1,0.31],[134.2,0.44],[135.3,0.25],[136,-0.04],[136.4,0.37],[137.5,0.19],[138.6,0.32],[139.7,0.57],[140.8,0.28],[141.9,0.15],[143,0.41],[144.1,0.26],[145.2,0.34],[146.3,0.2],[147.4,0.46],[148.5,0.3],[149.6,0.12],[150.7,0.38],[151.8,0.27],[152.9,0.5],[154,0.23],[155.1,0.33],[156.2,0.16],[157.3,0.42],[158.4,0.29],[159.5,0.21],[160.6,0.36],[161.7,0.47],[162.8,0.25],[163.9,0.32],[165,0.09],[166.1,0.39],[167.2,0.28],[168.3,0.54],[169.4,0.22],[170.5,0.35],[171.6,0.18],[172.7,0.43],[173.8,0.3],[174.9,0.13],[176,0.37],[177.1,0.26],[178.2,0.49],[179.3,0.24],[180.4,0.33],[181.5,0.15],[182.6,0.4],[183.7,0.29],[184.8,0.52],[185.9,0.21],[187,0.34],[188.1,0.17],[189.2,0.44],[190.3,0.27],[190.6,0.59]
];
const chr4LogRMore = [
[1.2,0.08],[2.0,-0.02],[2.8,0.16],[3.6,0.04],[5.4,0.1],[6.2,-0.04],[7.0,0.14],[7.8,0.06],[8.6,0.0],[9.4,0.18],
[11.2,0.26],[12.1,0.14],[13.0,0.33],[13.9,0.22],[14.8,0.4],[15.7,0.18],[16.6,0.3],[17.5,0.25],[18.4,0.38],[19.3,0.2],[20.2,0.29],[21.1,0.15],[22.0,0.34],[22.9,0.27],[23.8,0.43],[24.7,0.21],[25.6,0.3],[26.5,0.17],[27.4,0.36],[28.3,0.24],[29.2,0.32],[30.1,0.13],[31.0,0.28],[31.9,0.41],[32.8,0.22],[33.7,0.3],[34.6,0.18],[35.5,0.35],[36.4,0.26],[37.3,0.45],[38.2,0.2],[39.1,0.31],[40.0,0.15],[40.9,0.28],[41.8,0.38],[42.7,0.23],[43.6,0.33],[44.5,0.19],[45.4,0.27],[46.3,0.42],[47.2,0.24],[48.1,0.3],[49.0,0.16],
[53.3,0.27],[54.4,0.38],[55.5,0.22],[56.6,0.31],[57.7,0.19],[58.8,0.29],[59.9,0.42],[61.0,0.24],[62.1,0.33],[63.2,0.15],[64.3,0.3],[65.4,0.36],[66.5,0.21],[67.6,0.28],[68.7,0.4],[69.8,0.18],[70.9,0.32],[72.0,0.25],[73.1,0.37],[74.2,0.2],[75.3,0.29],[76.4,0.43],[77.5,0.23],[78.6,0.34],[79.7,0.16],[80.8,0.28],[81.9,0.39],[83.0,0.26],[84.1,0.31],[85.2,0.19],[86.3,0.35],[87.4,0.24],[88.5,0.44],[89.6,0.22],[90.7,0.3],[91.8,0.17],[92.9,0.36],[94.0,0.27],[95.2,0.33],[96.2,0.2],[97.3,0.4],[98.4,0.25],[99.5,0.3],[100.6,0.14],[101.7,0.34],[102.8,0.28],[103.9,0.38],[105.0,0.21],[106.1,0.31],[107.2,0.26],[108.3,0.45],[109.4,0.19],[110.5,0.3],[111.6,0.35],[112.7,0.23],[113.8,0.29],[114.9,0.16],[116.0,0.37],[117.1,0.25],[118.2,0.32],[119.3,0.43],[120.4,0.2],[121.5,0.3],[122.6,0.27],[123.7,0.39],[124.8,0.22],[125.9,0.33],[127.0,0.18],[128.1,0.29],[129.2,0.41],[130.3,0.26],[131.4,0.31],[132.5,0.2],[133.6,0.36],[134.7,0.24],[135.8,0.3],[136.9,0.15],[138.0,0.34],[139.1,0.27],[140.2,0.42],[141.3,0.22],[142.4,0.3],[143.5,0.19],[144.6,0.37],[145.7,0.28],[146.8,0.33],[147.9,0.24],[149.0,0.4],[150.1,0.2],[151.2,0.31],[152.3,0.26],[153.4,0.36],[154.5,0.17],[155.6,0.29],[156.7,0.44],[157.8,0.23],[158.9,0.32],[160.0,0.27],[161.1,0.19],[162.2,0.35],[163.3,0.25],[164.4,0.41],[165.5,0.3],[166.6,0.21],[167.7,0.34],[168.8,0.28],[169.9,0.38],[171.0,0.24],[172.1,0.31],[173.2,0.16],[174.3,0.36],[175.4,0.27],[176.5,0.45],[177.6,0.22],[178.7,0.3],[179.8,0.38],[180.9,0.25],[182.0,0.33],[183.1,0.2],[184.2,0.35],[185.3,0.28],[186.4,0.42],[187.5,0.24],[188.6,0.31],[189.7,0.19],[190.9,0.36]
];
const chr4Baf = [
[1,0.52],[2.5,0.47],[4,0.55],[5.5,0.45],[7,0.51],[8.5,0.48],[10,0.56],[11.5,0.46],[13,0.53],[14.5,0.49],[16,0.57],[17.5,0.47],[19,0.52],[20.5,0.5],[22,0.55],[23.5,0.46],[25.8,0.43],[26.5,0.53],[28,0.49],[29.5,0.51],[31,0.47],[32.5,0.54],[34,0.5],[35.5,0.46],[37,0.53],[38.5,0.48],[40,0.56],[41.5,0.45],[43,0.52],[44.5,0.49],[46,0.54],[47.5,0.47],[49,0.51],
[53,0.54],[54.5,0.46],[56,0.51],[57.5,0.49],[59,0.55],[60.5,0.47],[62,0.52],[63.5,0.5],[65,0.45],[66.5,0.53],[68.8,0.57],[69.5,0.48],[71,0.52],[72.5,0.46],[74,0.54],[75.5,0.5],[77,0.47],[78.5,0.55],[80,0.49],[81.5,0.52],[83,0.46],[84.5,0.54],[86,0.5],[87.5,0.47],[89,0.56],[90.5,0.48],[92,0.52],[93.5,0.45],[95,0.53],[96.5,0.49],[98,0.55],[99.5,0.46],[101,0.51],[102.5,0.57],[104,0.48],[105.5,0.53],[107,0.47],[108.5,0.52],[110,0.5],[111.5,0.45],[113,0.54],[114.5,0.49],[116,0.53],[117.5,0.46],[119,0.51],[120.5,0.55],[122,0.48],[123.5,0.52],[125,0.405],[126.5,0.5],[128,0.54],[129.5,0.47],[131,0.52],[132.5,0.49],[134,0.56],[135.5,0.46],[137,0.51],[138.5,0.53],[140,0.48],[141.5,0.45],[143,0.52],[144.5,0.5],[146,0.55],[147.5,0.47],[149,0.52],[150.5,0.49],[152,0.54],[153.5,0.46],[155,0.51],[156.5,0.56],[158,0.48],[159.5,0.53],[161,0.47],[162.5,0.51],[164,0.55],[165.5,0.49],[167,0.52],[168.5,0.46],[170,0.53],[171.5,0.5],[173,0.47],[174.5,0.54],[176,0.49],[177.5,0.52],[179,0.46],[180.5,0.55],[182,0.48],[183.5,0.51],[185,0.47],[186.5,0.53],[188,0.5],[189.5,0.46],[190.8,0.52]
];

// ---- cytobands: [start Mb, end Mb, stain] ----
const chr1Bands = [
[0,2.3,"gpos25"],[2.3,3.2,"gpos75"],[3.2,4.9,"gneg"],[4.9,6.1,"gpos50"],[6.1,8.9,"gneg"],[8.9,10.5,"gpos25"],[10.5,12.6,"gneg"],[12.6,15.4,"gpos50"],[15.4,20.0,"gneg"],[20.0,23.3,"gpos25"],[23.3,27.4,"gneg"],[27.4,29.0,"gpos50"],[29.0,30.7,"gneg"],[30.7,32.3,"gpos50"],[32.3,39.7,"gneg"],[39.7,43.0,"gpos25"],[43.0,46.3,"gneg"],[46.3,49.6,"gpos75"],[49.6,56.1,"gneg"],[56.1,57.8,"gpos50"],[57.8,59.4,"gpos75"],[59.4,61.0,"gneg"],[61.0,68.4,"gpos50"],[68.4,84.8,"gpos100"],[84.8,88.1,"gneg"],[88.1,91.4,"gpos75"],[91.4,94.7,"gneg"],[94.7,99.6,"gpos75"],[99.6,102.1,"gneg"],[102.1,107.8,"gpos100"],[107.8,111.9,"gneg"],[111.9,116.0,"gpos50"],[116.0,118.5,"gpos25"],[118.5,121.5,"gpos50"],[121.5,125.0,"acen"],[125.0,142.3,"gvar"],[142.3,147.2,"gneg"],[147.2,149.7,"gpos50"],[149.7,155.4,"gneg"],[155.4,157.9,"gpos75"],[157.9,159.5,"gneg"],[159.5,162.0,"gpos50"],[162.0,166.1,"gneg"],[166.1,167.7,"gpos50"],[167.7,171.8,"gneg"],[171.8,174.3,"gpos75"],[174.3,177.6,"gneg"],[177.6,185.8,"gpos50"],[185.8,191.5,"gneg"],[191.5,194.0,"gpos100"],[194.0,207.9,"gneg"],[207.9,211.2,"gpos25"],[211.2,214.5,"gneg"],[214.5,225.1,"gpos100"],[225.1,226.8,"gneg"],[226.8,228.4,"gpos75"],[228.4,231.7,"gpos50"],[231.7,235.0,"gneg"],[235.0,237.0,"gpos100"],[237.0,244.0,"gpos75"],[244.0,249.25,"gneg"]
];
const chr2Bands = [
[0,3.5,"gneg"],[3.5,4.8,"gpos75"],[4.8,6.7,"gpos50"],[6.7,11.5,"gneg"],[11.5,16.3,"gpos75"],[16.3,17.6,"gneg"],[17.6,19.5,"gpos100"],[19.5,25.2,"gneg"],[25.2,26.8,"gpos50"],[26.8,28.4,"gneg"],[28.4,31.6,"gpos75"],[31.6,33.0,"gneg"],[33.0,36.4,"gpos75"],[36.4,38.0,"gneg"],[38.0,39.6,"gpos50"],[39.6,47.6,"gneg"],[47.6,52.4,"gpos100"],[52.4,54.0,"gneg"],[54.0,63.6,"gpos100"],[63.6,67.6,"gpos50"],[67.6,70.0,"gneg"],[70.0,71.6,"gpos75"],[71.6,73.2,"gneg"],[73.2,74.8,"gpos50"],[74.8,83.6,"gpos100"],[83.6,90.0,"gneg"],[90.0,94.0,"acen"],[94.0,102.0,"gneg"],[102.0,106.0,"gpos50"],[106.0,107.7,"gpos25"],[107.7,110.1,"gneg"],[110.1,114.9,"gpos50"],[114.9,117.3,"gneg"],[117.3,121.0,"gpos50"],[121.0,123.0,"gneg"],[123.0,130.1,"gpos50"],[130.1,132.5,"gneg"],[132.5,134.9,"gpos25"],[134.9,135.7,"gneg"],[135.7,142.1,"gpos100"],[142.1,143.7,"gneg"],[143.7,147.7,"gpos100"],[147.7,151.7,"gneg"],[151.7,155.7,"gpos100"],[155.7,160.5,"gpos75"],[160.5,163.7,"gneg"],[163.7,170.1,"gpos75"],[170.1,183.7,"gneg"],[183.7,190.2,"gpos75"],[190.2,192.6,"gpos100"],[192.6,198.2,"gpos75"],[198.2,203.8,"gneg"],[203.8,205.4,"gpos100"],[205.4,209.4,"gneg"],[209.4,216.6,"gpos100"],[216.6,222.2,"gneg"],[222.2,226.2,"gpos75"],[226.2,231.8,"gpos100"],[231.8,235.8,"gneg"],[235.8,237.4,"gpos100"],[237.4,243.2,"gneg"]
];
const chr3Bands = [
[0,3.5,"gpos50"],[3.5,4.8,"gpos75"],[4.8,8.1,"gpos50"],[8.1,9.4,"gneg"],[9.4,10.7,"gpos75"],[10.7,15.9,"gneg"],[15.9,23.8,"gpos100"],[23.8,26.4,"gneg"],[26.4,30.5,"gpos75"],[30.5,31.8,"gneg"],[31.8,35.5,"gpos50"],[35.5,36.8,"gneg"],[36.8,39.4,"gpos100"],[39.4,43.6,"gpos75"],[43.6,50.5,"gneg"],[50.5,51.8,"gpos50"],[51.8,54.4,"gneg"],[54.4,59.0,"gpos50"],[59.0,63.6,"gneg"],[63.6,69.4,"gpos50"],[69.4,74.6,"gneg"],[74.6,79.9,"gpos75"],[79.9,83.8,"gneg"],[83.8,87.7,"gpos75"],[87.7,93.0,"acen"],[93.0,98.1,"gvar"],[98.1,100.7,"gneg"],[100.7,102.7,"gpos75"],[102.7,106.0,"gpos50"],[106.0,107.3,"gneg"],[107.3,111.2,"gpos75"],[111.2,113.8,"gpos50"],[113.8,117.7,"gneg"],[117.7,119.7,"gpos75"],[119.7,121.6,"gpos50"],[121.6,123.6,"gneg"],[123.6,124.9,"gpos75"],[124.9,126.8,"gneg"],[126.8,134.7,"gpos25"],[134.7,136.6,"gneg"],[136.6,138.6,"gpos50"],[138.6,142.5,"gneg"],[142.5,149.0,"gpos100"],[149.0,152.9,"gneg"],[152.9,155.6,"gpos50"],[155.6,158.2,"gneg"],[158.2,160.8,"gpos75"],[160.8,168.6,"gpos100"],[168.6,171.2,"gneg"],[171.2,176.4,"gpos75"],[176.4,179.0,"gneg"],[179.0,183.0,"gpos75"],[183.0,184.3,"gneg"],[184.3,186.9,"gpos100"],[186.9,192.1,"gpos75"],[192.1,198.0,"gneg"]
];
const chr4Bands = [
[0,4.0,"gneg"],[4.0,5.3,"gpos25"],[5.3,11.0,"gneg"],[11.0,14.7,"gpos50"],[14.7,17.2,"gneg"],[17.2,21.0,"gpos75"],[21.0,27.3,"gneg"],[27.3,36.1,"gpos100"],[36.1,40.5,"gneg"],[40.5,44.3,"gpos50"],[44.3,48.1,"gneg"],[48.1,51.9,"acen"],[51.9,58.8,"gneg"],[58.8,66.3,"gpos100"],[66.3,70.1,"gneg"],[70.1,76.4,"gpos75"],[76.4,78.9,"gneg"],[78.9,82.1,"gpos50"],[82.1,83.3,"gneg"],[83.3,84.0,"gpos75"],[84.0,86.5,"gpos25"],[86.5,88.4,"gneg"],[88.4,94.0,"gpos75"],[94.0,95.3,"gneg"],[95.3,99.1,"gpos75"],[99.1,101.0,"gneg"],[101.0,107.9,"gpos50"],[107.9,114.2,"gneg"],[114.2,120.5,"gpos75"],[120.5,124.3,"gneg"],[124.3,128.7,"gpos50"],[128.7,130.6,"gneg"],[130.6,141.3,"gpos100"],[141.3,147.6,"gpos25"],[147.6,148.8,"gneg"],[148.8,151.3,"gpos25"],[151.3,155.7,"gneg"],[155.7,162.7,"gpos100"],[162.7,164.5,"gneg"],[164.5,170.8,"gpos100"],[170.8,172.7,"gneg"],[172.7,176.5,"gpos75"],[176.5,177.8,"gneg"],[177.8,184.1,"gpos100"],[184.1,187.2,"gneg"],[187.2,191.15,"gpos25"]
];

// ---- layout ----
const stainColor = {gneg: "#ffffff", gpos25: "#c0c0c0", gpos50: "#808080", gpos75: "#404040", gpos100: "#000000", acen: "#ffff00", gvar: "#ffffff"};
const colLeft = [109.5, 809];
const frameW = 553.5;
const rowOff = [0, 413];
const ML = 109.5, M = 3;
const font = "DejaVu Sans";

const panels = [
  {logR: chr1LogR.concat(chr1LogRMore), logRSeg: chr1LogRSeg, logRStars: [], baf: chr1Baf, bafSeg: chr1BafSeg, bafStars: chr1BafStars, bands: chr1Bands},
  {logR: chr2LogR.concat(chr2LogRMore), logRSeg: chr2LogRSeg, logRStars: [], baf: chr2Baf, bafSeg: chr2BafSeg, bafStars: [], bands: chr2Bands},
  {logR: chr3LogR.concat(chr3LogRMore), logRSeg: chr3LogRSeg, logRStars: chr3LogRStars, baf: chr3Baf, bafSeg: chr3BafSeg, bafStars: [], bands: chr3Bands},
  {logR: chr4LogR.concat(chr4LogRMore), logRSeg: chr4LogRSeg, logRStars: [], baf: chr4Baf, bafSeg: chr4BafSeg, bafStars: [], bands: chr4Bands}
];

const chart = document.getElementById("chart");

function addText(txt, size, left, width, top) {
  const div = document.createElement("div");
  div.className = "title";
  div.textContent = txt;
  div.style.fontSize = size + "px";
  div.style.left = left + "px";
  div.style.width = width + "px";
  div.style.top = top + "px";
  chart.appendChild(div);
}

function place(svg, left, top) {
  svg.style.left = left + "px";
  svg.style.top = top + "px";
  chart.appendChild(svg);
}

function stepPoints(segs) {
  const pts = [];
  for (const [s, e, v, g] of segs) pts.push({x: s, y: v, g}, {x: e, y: v, g});
  return pts;
}

function bafPoints(segs) {
  const pts = [];
  segs.forEach(([s, e, h], i) => {
    pts.push({x: s, y: h, g: i + "a"}, {x: e, y: h, g: i + "a"});
    if (h !== 0.5) pts.push({x: s, y: 1 - h, g: i + "b"}, {x: e, y: 1 - h, g: i + "b"});
  });
  return pts;
}

function trackPlot({length, height, yDomain, ticks, ref, label, points, lines, stars}) {
  return Plot.plot({
    width: ML + frameW + M,
    height: height + 2 * M,
    marginLeft: ML, marginRight: M, marginTop: M, marginBottom: M,
    style: {background: "transparent", fontFamily: font, overflow: "visible"},
    x: {domain: [0, length], axis: null},
    y: {domain: yDomain, axis: null},
    marks: [
      Plot.dot(stars, {x: d => d[0], y: d => d[1], symbol: "asterisk", r: 4.5, stroke: "#bebebe", strokeWidth: 1.2}),
      Plot.dot(points, {x: d => d[0], y: d => d[1], symbol: "square", r: 2.2, fill: "#bebebe", stroke: null}),
      Plot.ruleY([ref], {stroke: "#aaaaaa", strokeWidth: 3.5, strokeDasharray: "29,9.5"}),
      Plot.line(lines, {x: "x", y: "y", z: "g", stroke: "red", strokeWidth: 6.5, strokeLinecap: "round", strokeLinejoin: "round", clip: true}),
      Plot.frame({stroke: "black", strokeWidth: 2}),
      Plot.axisY({ticks, label: null, tickSize: 12, tickPadding: 7, fontSize: 22, strokeWidth: 2, tickFormat: d => d.toFixed(1)}),
      Plot.text([label], {frameAnchor: "left", dx: -90, rotate: -90, fontSize: 25, textAnchor: "middle", lineAnchor: "middle", text: d => d})
    ]
  });
}

function ideogramPlot(length, bands) {
  const acen = bands.filter(b => b[2] === "acen");
  const mid = (acen[0][0] + acen[acen.length - 1][1]) / 2;
  const parts = [];
  for (const [s, e, stain] of bands) {
    if (stain === "acen" && s < mid && e > mid) {
      parts.push({s, e: mid, stain}, {s: mid, e, stain});
    } else parts.push({s, e, stain});
  }
  // bands touching an arm end get rounded corners and tuck under their neighbour
  const ext = 6 * length / frameW;
  const ends = [], inner = [];
  for (const p of parts) {
    if (p.s === 0 || p.s === mid) ends.push({...p, e: p.e + ext});
    else if (p.e === mid || Math.abs(p.e - length) < 1e-9) ends.push({...p, s: p.s - ext});
    else inner.push(p);
  }
  const gvar = parts.filter(p => p.stain === "gvar");
  const hatch = gvar.flatMap(p => {
    const w = p.e - p.s;
    return [[p.s + 0.05 * w, p.s + 0.6 * w], [p.s + 0.45 * w, p.s + 0.97 * w]];
  });
  const arms = [[0, mid], [mid, length]];
  return Plot.plot({
    width: ML + frameW + M,
    height: 21 + 2 * M,
    marginLeft: ML, marginRight: M, marginTop: M, marginBottom: M,
    style: {background: "transparent", fontFamily: font, overflow: "visible"},
    x: {domain: [0, length], axis: null},
    y: {domain: [0, 1], axis: null},
    marks: [
      Plot.rect(ends, {x1: "s", x2: "e", y1: 0, y2: 1, fill: d => stainColor[d.stain], stroke: "black", strokeWidth: 1, rx: 5, ry: 10.5}),
      Plot.rect(inner, {x1: "s", x2: "e", y1: 0, y2: 1, fill: d => stainColor[d.stain], stroke: "black", strokeWidth: 1}),
      Plot.link(hatch, {x1: d => d[0], x2: d => d[1], y1: 0.08, y2: 0.92, stroke: "#bebebe", strokeWidth: 1.5}),
      Plot.rect(arms, {x1: d => d[0], x2: d => d[1], y1: 0, y2: 1, fill: "none", stroke: "black", strokeWidth: 2, rx: 5, ry: 10.5})
    ]
  });
}

// ---- draw ----
addText("S2", 40, 0, 1400, 1.2);

panels.forEach((p, i) => {
  const col = i % 2, row = Math.floor(i / 2);
  const L = chrLength[i];
  const x0 = colLeft[col] - ML;
  const off = rowOff[row];

  addText(chrNames[i], 30, colLeft[col], frameW, 81.9 + off);

  place(trackPlot({
    length: L, height: 117.5, yDomain: [-0.96, 1.0], ticks: [-0.5, 0, 0.5], ref: 0, label: "logR",
    points: p.logR, lines: stepPoints(p.logRSeg), stars: p.logRStars
  }), x0, 129.3 - M + off);

  place(trackPlot({
    length: L, height: 145.7, yDomain: [0.068, 0.932], ticks: [0.2, 0.4, 0.6, 0.8], ref: 0.5, label: "BAF",
    points: p.baf, lines: bafPoints(p.bafSeg), stars: p.bafStars
  }), x0, 269.3 - M + off);

  place(ideogramPlot(L, p.bands), x0, 423.3 - M + off);
});
</script>
</body>
</html>
